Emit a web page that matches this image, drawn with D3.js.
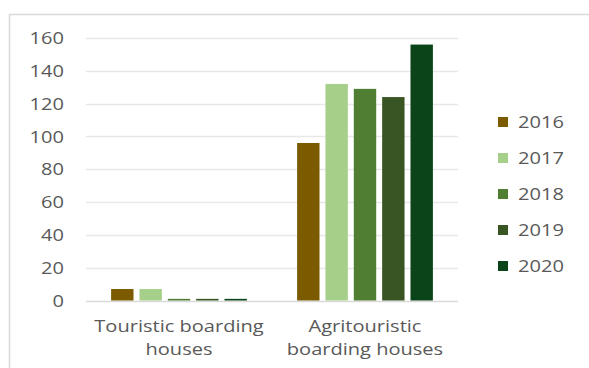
<!DOCTYPE html>
<html>
<head>
<meta charset="utf-8">
<script src="https://cdn.jsdelivr.net/npm/d3@7"></script>
<style>
  body { margin: 0; background: #fff; }
  svg { display: block; font-family: "Open Sans", Lato, sans-serif; }
</style>
</head>
<body>
<div id="chart"></div>
<script>
// categories and series
const categories = [["Touristic boarding", "houses"], ["Agritouristic", "boarding houses"]];
const years = ["2016", "2017", "2018", "2019", "2020"];
const values2016 = [7, 96];
const values2017 = [7, 132];
const values2018 = [1, 129];
const values2019 = [1, 124];
const values2020 = [1, 156];
const yTicks = [0, 20, 40, 60, 80, 100, 120, 140, 160];
const colors = ["#7c5b00", "#a6d08a", "#507f33", "#3a5524", "#0a4418"];

const series = [values2016, values2017, values2018, values2019, values2020];

// the picture is a bit stretched sideways, so text gets the same stretch
const stretch = 1.18;

function placeText(x, y) {
    return "translate(" + x + "," + y + ") scale(" + stretch + ",1)";
}

function setupChart() {
    const width = 589
    const height = 368

    let svg = d3.select("#chart")
        .append("svg")
        .attr("width", width)
        .attr("height", height);

    // frame of the chart area
    svg.append("path")
        .attr("d", "M9.5,368 V14.5 H589")
        .attr("fill", "none")
        .attr("stroke", "#d9d9d9")
        .attr("stroke-width", 1.5);

    const x0 = d3.scaleBand()
        .domain(d3.range(categories.length))
        .range([86, 458])
        .paddingInner(0.27)
        .paddingOuter(0.135);

    const x1 = d3.scaleBand()
        .domain(years)
        .range([0, x0.bandwidth()])
        .paddingInner(0.21);

    const y = d3.scaleLinear()
        .domain([0, 160])
        .range([300.5, 38]);

    // gridlines
    svg.selectAll("grid")
        .data(yTicks)
        .enter()
        .append("line")
        .attr("x1", 86)
        .attr("x2", 458)
        .attr("y1", d => Math.round(y(d)) + 0.5)
        .attr("y2", d => Math.round(y(d)) + 0.5)
        .attr("stroke", d => d === 0 ? "#d9d9d9" : "#e8e8e8")
        .attr("stroke-width", 1.5);

    // y tick labels
    svg.selectAll("ylabels")
        .data(yTicks)
        .enter()
        .append("text")
        .attr("transform", d => placeText(64, y(d)))
        .attr("dy", "0.36em")
        .attr("text-anchor", "end")
        .style("font-size", "17px")
        .attr("fill", "#595959")
        .text(d => d);

    // bars
    years.forEach(function (yr, i) {
        svg.selectAll("bars" + yr)
            .data(series[i])
            .enter()
            .append("rect")
            .attr("x", (d, c) => x0(c) + x1(yr))
            .attr("width", x1.bandwidth())
            .attr("y", d => y(d))
            .attr("height", d => y(0) - y(d))
            .attr("fill", colors[i]);
    });

    // category labels
    categories.forEach(function (lines, c) {
        const cx = x0(c) + x0.bandwidth() / 2;
        lines.forEach(function (line, k) {
            svg.append("text")
                .attr("transform", placeText(cx, 332 + k * 23))
                .attr("text-anchor", "middle")
                .style("font-size", "17px")
                .attr("fill", "#595959")
                .text(line);
        });
    });

    // legend
    const legend = svg.selectAll("legend")
        .data(years)
        .enter()
        .append("g")
        .attr("transform", (d, i) => "translate(498," + (122 + i * 36) + ")");

    legend.append("rect")
        .attr("x", 0)
        .attr("y", -5)
        .attr("width", 10)
        .attr("height", 10)
        .attr("fill", (d, i) => colors[i]);

    legend.append("text")
        .attr("transform", placeText(20, 0))
        .attr("dy", "0.36em")
        .style("font-size", "17px")
        .attr("fill", "#595959")
        .text(d => d);
}

setupChart();
</script>
</body>
</html>
